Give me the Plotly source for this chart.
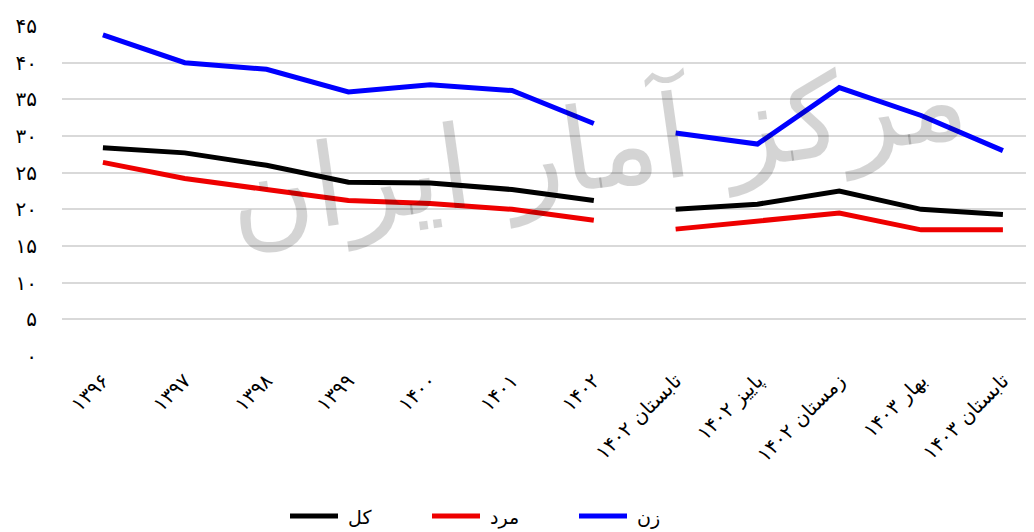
import plotly.graph_objects as go

categories = ["۱۳۹۶", "۱۳۹۷", "۱۳۹۸", "۱۳۹۹", "۱۴۰۰", "۱۴۰۱", "۱۴۰۲",
              "تابستان ۱۴۰۲", "پاییز ۱۴۰۲", "زمستان ۱۴۰۲", "بهار ۱۴۰۳", "تابستان ۱۴۰۳"]
total = [28.4, 27.7, 26.0, 23.7, 23.6, 22.7, 21.2, 20.0, 20.7, 22.5, 20.0, 19.3]
men = [26.4, 24.2, 22.7, 21.2, 20.8, 20.0, 18.5, 17.3, 18.4, 19.5, 17.2, 17.2]
women = [43.8, 40.0, 39.1, 36.0, 37.0, 36.2, 31.7, 30.4, 28.9, 36.6, 32.8, 28.0]
ytick_vals = [0, 5, 10, 15, 20, 25, 30, 35, 40, 45]
ytick_text = ["۰", "۵", "۱۰", "۱۵", "۲۰", "۲۵", "۳۰", "۳۵", "۴۰", "۴۵"]
SPLIT = 7  # annual series ends, quarterly series begins

series_names = ["کل", "مرد", "زن"]
series_values = [total, men, women]
series_colors = ["#000000", "#ee0000", "#0000ff"]

W, H = 1026, 524
ML, MR, MT, MB = 54, 0, 18, 176

fig = go.Figure()
for name, vals, color in zip(series_names, series_values, series_colors):
    for a, b in [(0, SPLIT), (SPLIT, len(categories))]:
        fig.add_trace(go.Scatter(
            x=categories[a:b], y=vals[a:b], mode="lines", name=name,
            legendgroup=name, showlegend=False,
            line=dict(color=color, width=5),
        ))

# custom legend (long line swatches, text to the right)
pw = W - ML - MR
ph = H - MT - MB
def px_to_paper_x(px):
    return (px - 8 - ML) / pw
def py_to_paper_y(py):
    return (H - MB - (py - 8)) / ph

legend_starts = [288, 430, 577]
for name, color, x0 in zip(series_names, series_colors, legend_starts):
    fig.add_shape(type="line", xref="paper", yref="paper",
                  x0=px_to_paper_x(x0 + 2), x1=px_to_paper_x(x0 + 50),
                  y0=py_to_paper_y(516), y1=py_to_paper_y(516),
                  line=dict(color=color, width=5))
    fig.add_annotation(text=name, xref="paper", yref="paper",
                       x=px_to_paper_x(x0 + 58), y=py_to_paper_y(517),
                       xanchor="left", yanchor="middle", showarrow=False,
                       font=dict(family="DejaVu Sans", size=19, color="#000000"))

fig.update_layout(
    width=W, height=H,
    margin=dict(l=ML, r=MR, t=MT, b=MB),
    paper_bgcolor="white", plot_bgcolor="white",
    font=dict(family="DejaVu Sans", size=18, color="#000000"),
    showlegend=False,
    xaxis=dict(type="category", categoryorder="array", categoryarray=categories,
               range=[-0.5, 11.38], tickangle=-45, showgrid=False,
               showline=False, ticks="", tickfont=dict(size=20),
               ticklabelstandoff=8),
    yaxis=dict(range=[0, 45], tickvals=ytick_vals, ticktext=ytick_text,
               showgrid=True, gridcolor="#d9d9d9", gridwidth=1.5,
               zeroline=False, showline=False, ticklabelstandoff=24,
               tickfont=dict(size=20)),
)

fig.add_annotation(
    text="مرکز آمار ایران", xref="paper", yref="paper",
    x=0.55, y=0.63, showarrow=False, textangle=-8,
    font=dict(family="DejaVu Sans", size=115, color="rgba(0,0,0,0.17)"),
)

fig.write_html("out.html")
